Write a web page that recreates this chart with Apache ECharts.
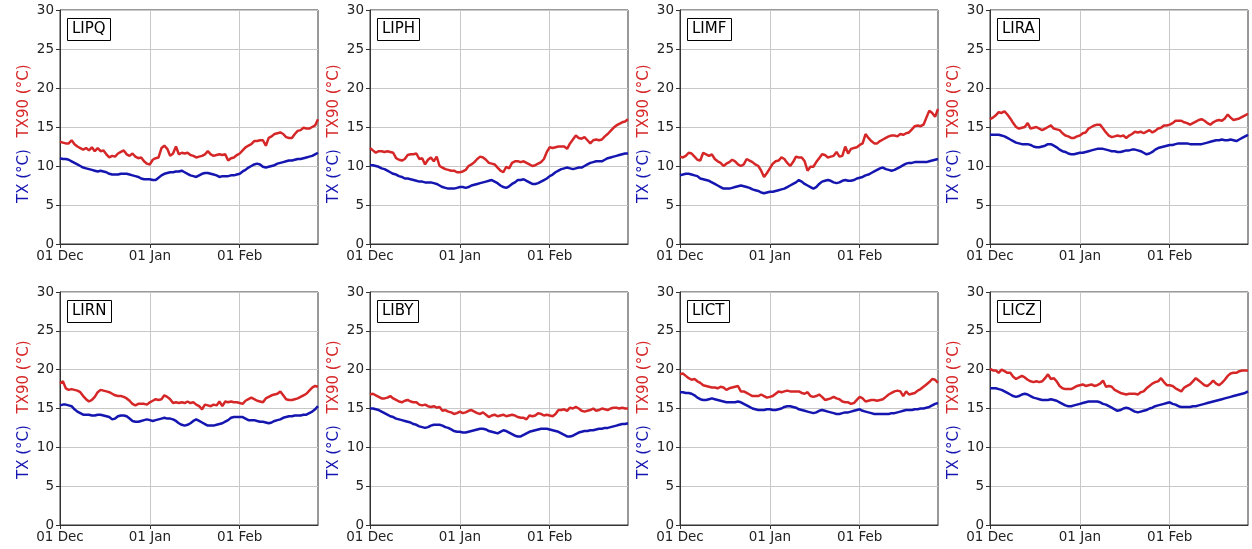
<!DOCTYPE html>
<html>
<head>
<meta charset="utf-8">
<script src="https://cdn.jsdelivr.net/npm/echarts@6/dist/echarts.min.js"></script>
<style>
  html, body { margin: 0; padding: 0; background: #fff; }
  #chart { width: 1252px; height: 549px; }
</style>
</head>
<body>
<div id="chart"></div>
<script>
const stations = ['LIPQ', 'LIPH', 'LIMF', 'LIRA', 'LIRN', 'LIBY', 'LICT', 'LICZ'];
const monthTickIndex = [0, 31, 62];
const monthTickLabels = ['01 Dec', '01 Jan', '01 Feb'];

// daily values, 1 Dec .. 28 Feb (90 days)
const tx90LIPQ = [
  13.1,13.0,12.9,12.9,13.3,12.8,12.5,12.3,12.1,12.3,
  12.0,12.4,11.9,12.3,11.9,12.0,11.5,11.1,11.3,11.2,
  11.6,11.8,12.0,11.5,11.3,11.6,11.2,11.0,11.1,10.6,
  10.3,10.2,10.8,11.0,11.1,12.3,12.6,12.2,11.3,11.6,
  12.5,11.5,11.7,11.6,11.7,11.4,11.3,11.1,11.2,11.3,
  11.5,11.9,11.5,11.3,11.4,11.5,11.4,11.5,10.7,11.0,
  11.1,11.4,11.6,12.0,12.4,12.6,12.8,13.2,13.2,13.3,
  13.3,12.6,13.6,13.8,14.1,14.2,14.3,14.1,13.7,13.6,
  13.6,14.1,14.5,14.6,14.9,14.8,14.8,15.0,15.2,16.0];
const txLIPQ = [
  11.0,10.9,10.9,10.8,10.6,10.4,10.2,10.0,9.8,9.7,
  9.6,9.5,9.4,9.3,9.4,9.3,9.2,9.0,8.9,8.9,
  8.9,9.0,9.0,9.0,8.9,8.8,8.7,8.6,8.4,8.3,
  8.3,8.3,8.2,8.2,8.5,8.8,9.0,9.1,9.2,9.2,
  9.3,9.3,9.4,9.2,9.0,8.8,8.7,8.6,8.8,9.0,
  9.1,9.1,9.0,8.9,8.8,8.6,8.7,8.7,8.7,8.8,
  8.8,8.9,9.0,9.3,9.5,9.8,10.0,10.2,10.3,10.2,
  9.9,9.8,9.9,10.0,10.1,10.3,10.4,10.5,10.6,10.7,
  10.7,10.8,10.9,10.9,11.0,11.1,11.2,11.3,11.5,11.7];

const tx90LIPH = [
  12.3,12.0,11.7,11.9,11.9,11.8,11.9,11.8,11.7,11.0,
  10.8,10.7,10.9,11.4,11.5,11.5,11.6,10.9,11.0,10.2,
  10.8,11.1,10.6,11.2,10.0,9.8,9.6,9.5,9.4,9.4,
  9.2,9.2,9.3,9.5,10.0,10.2,10.5,10.9,11.2,11.1,
  10.8,10.4,10.3,10.2,9.8,9.4,9.2,9.9,9.7,10.4,
  10.6,10.6,10.5,10.6,10.4,10.2,10.0,10.1,10.3,10.5,
  10.9,11.8,12.4,12.3,12.4,12.5,12.5,12.5,12.2,12.9,
  13.4,13.9,13.6,13.5,13.7,13.3,12.9,13.3,13.4,13.3,
  13.4,13.8,14.1,14.5,14.9,15.2,15.4,15.6,15.7,16.0];
const txLIPH = [
  10.1,10.1,10.0,9.9,9.7,9.6,9.4,9.2,9.0,8.9,
  8.7,8.6,8.4,8.4,8.3,8.2,8.1,8.0,8.0,7.9,
  7.9,7.9,7.8,7.7,7.5,7.3,7.2,7.1,7.1,7.1,
  7.2,7.3,7.3,7.2,7.3,7.5,7.6,7.7,7.8,7.9,
  8.0,8.1,8.2,8.0,7.8,7.5,7.3,7.2,7.4,7.7,
  7.9,8.2,8.2,8.3,8.1,7.9,7.7,7.7,7.8,8.0,
  8.2,8.4,8.7,8.9,9.2,9.4,9.6,9.7,9.8,9.7,
  9.6,9.7,9.8,9.8,10.0,10.2,10.4,10.5,10.6,10.6,
  10.6,10.8,11.0,11.1,11.2,11.3,11.4,11.5,11.6,11.6];

const tx90LIMF = [
  11.2,11.1,11.3,11.7,11.6,11.2,10.8,10.7,11.7,11.5,
  11.3,11.5,10.9,10.6,10.4,10.0,10.3,10.5,10.8,10.6,
  10.2,10.0,10.2,10.9,10.7,10.5,10.2,10.0,9.4,8.6,
  9.1,9.7,10.3,10.6,10.7,11.1,10.9,10.4,10.0,10.5,
  11.2,11.1,11.1,10.6,9.4,9.9,9.9,10.5,11.0,11.5,
  11.4,11.1,11.2,11.3,11.8,11.2,11.3,12.5,11.6,12.2,
  12.3,12.4,12.7,12.9,14.1,13.6,13.2,12.9,12.9,13.2,
  13.4,13.6,13.8,13.9,13.9,13.8,14.1,14.0,14.2,14.3,
  14.7,15.1,15.2,15.1,15.3,16.2,17.1,16.8,16.3,17.3];
const txLIMF = [
  8.8,8.9,9.0,9.0,8.9,8.8,8.7,8.4,8.3,8.2,
  8.1,7.9,7.7,7.5,7.3,7.1,7.1,7.1,7.2,7.3,
  7.4,7.5,7.4,7.3,7.2,7.0,6.9,6.8,6.6,6.5,
  6.6,6.7,6.7,6.8,6.9,7.0,7.1,7.3,7.5,7.7,
  7.9,8.2,8.0,7.7,7.5,7.3,7.1,7.3,7.7,8.0,
  8.1,8.2,8.1,7.9,7.8,7.9,8.1,8.2,8.1,8.1,
  8.2,8.4,8.5,8.6,8.8,8.9,9.1,9.3,9.5,9.7,
  9.8,9.6,9.5,9.4,9.5,9.7,9.9,10.1,10.3,10.4,
  10.4,10.5,10.5,10.5,10.5,10.5,10.6,10.7,10.8,10.9];

const tx90LIRA = [
  16.0,16.2,16.5,16.9,16.8,17.0,16.6,16.1,15.5,15.0,
  14.8,14.9,15.0,15.5,14.8,14.9,15.0,14.8,14.6,14.8,
  15.0,15.2,14.8,14.7,14.6,14.2,13.9,13.8,13.6,13.6,
  13.8,13.9,14.2,14.3,14.8,15.0,15.2,15.3,15.3,14.8,
  14.3,13.9,13.7,13.8,13.9,13.8,13.9,13.6,13.9,14.1,
  14.4,14.3,14.4,14.2,14.4,14.6,14.3,14.5,14.8,14.9,
  15.2,15.2,15.3,15.5,15.8,15.8,15.8,15.6,15.5,15.3,
  15.5,15.7,15.9,16.0,15.8,15.5,15.3,15.6,15.8,15.9,
  15.8,16.1,16.6,16.2,15.9,16.0,16.1,16.3,16.5,16.7];
const txLIRA = [
  14.0,14.0,14.0,14.0,13.9,13.8,13.6,13.4,13.2,13.0,
  12.9,12.8,12.8,12.8,12.7,12.5,12.4,12.4,12.5,12.6,
  12.8,12.8,12.6,12.4,12.1,11.9,11.8,11.6,11.5,11.5,
  11.6,11.7,11.7,11.8,11.9,12.0,12.1,12.2,12.2,12.2,
  12.1,12.0,11.9,11.9,11.8,11.8,11.9,12.0,12.0,12.1,
  12.1,12.0,11.9,11.7,11.5,11.6,11.8,12.1,12.3,12.4,
  12.5,12.6,12.7,12.7,12.8,12.9,12.9,12.9,12.9,12.8,
  12.8,12.8,12.8,12.8,12.9,13.0,13.1,13.2,13.3,13.3,
  13.4,13.3,13.3,13.4,13.3,13.2,13.4,13.6,13.8,14.0];

const tx90LIRN = [
  18.2,18.5,17.6,17.4,17.5,17.4,17.3,17.1,16.6,16.2,
  15.9,16.1,16.5,17.1,17.4,17.3,17.2,17.1,16.9,16.7,
  16.6,16.6,16.5,16.3,16.0,15.6,15.4,15.6,15.6,15.6,
  15.5,15.8,16.0,16.2,16.1,16.2,16.7,16.5,16.2,15.7,
  15.8,15.7,15.8,15.7,15.9,15.7,15.8,15.5,15.3,14.9,
  15.5,15.4,15.3,15.5,15.4,15.9,15.3,15.9,15.8,15.9,
  15.8,15.8,15.7,15.6,16.0,16.2,16.4,16.2,16.0,15.9,
  15.8,16.3,16.5,16.7,16.8,16.9,17.2,16.7,16.2,16.1,
  16.1,16.2,16.3,16.5,16.7,16.9,17.3,17.7,17.9,17.8];
const txLIRN = [
  15.4,15.5,15.5,15.4,15.3,14.9,14.6,14.4,14.2,14.2,
  14.2,14.1,14.1,14.2,14.2,14.1,14.0,13.9,13.6,13.7,
  14.0,14.1,14.1,14.0,13.7,13.4,13.3,13.3,13.4,13.5,
  13.6,13.5,13.4,13.5,13.6,13.7,13.8,13.7,13.7,13.6,
  13.4,13.1,12.9,12.8,12.9,13.1,13.4,13.6,13.4,13.2,
  13.0,12.8,12.8,12.8,12.9,13.0,13.1,13.3,13.5,13.8,
  13.9,13.9,13.9,13.9,13.7,13.5,13.5,13.5,13.4,13.3,
  13.3,13.2,13.1,13.2,13.4,13.5,13.6,13.8,13.9,14.0,
  14.0,14.1,14.1,14.1,14.2,14.2,14.4,14.6,14.9,15.3];

const tx90LIBY = [
  16.8,16.9,16.7,16.5,16.3,16.3,16.4,16.6,16.3,16.1,
  15.9,15.8,16.0,16.1,15.9,15.8,15.8,15.5,15.4,15.5,
  15.3,15.2,15.3,15.1,15.2,14.7,14.8,14.6,14.5,14.3,
  14.4,14.6,14.4,14.5,14.7,14.8,14.6,14.4,14.3,14.5,
  14.2,13.9,14.1,14.2,14.0,14.1,14.2,14.0,14.1,14.2,
  14.1,13.9,13.8,13.8,13.6,14.1,14.0,14.1,14.4,14.3,
  14.1,14.2,14.1,14.0,14.3,14.8,14.8,14.9,14.7,15.1,
  15.0,15.2,15.0,14.7,14.6,14.7,14.8,15.0,14.7,14.8,
  15.0,14.9,14.8,15.0,15.1,15.1,15.0,15.1,15.0,15.0];
const txLIBY = [
  15.0,15.0,14.9,14.8,14.6,14.4,14.2,14.0,13.9,13.7,
  13.6,13.5,13.4,13.3,13.2,13.0,12.9,12.7,12.6,12.5,
  12.6,12.8,12.9,12.9,12.9,12.8,12.6,12.5,12.3,12.1,
  12.0,12.0,11.9,11.9,12.0,12.1,12.2,12.3,12.4,12.4,
  12.3,12.1,12.0,11.9,11.8,12.0,12.2,12.1,11.9,11.7,
  11.5,11.4,11.4,11.6,11.8,12.0,12.1,12.2,12.3,12.4,
  12.4,12.4,12.3,12.2,12.1,12.0,11.8,11.6,11.4,11.4,
  11.5,11.7,11.9,12.0,12.1,12.1,12.2,12.2,12.3,12.4,
  12.4,12.5,12.5,12.6,12.7,12.8,12.9,13.0,13.0,13.1];

const tx90LICT = [
  19.4,19.5,19.2,18.9,18.7,18.8,18.5,18.3,18.0,17.9,
  17.8,17.7,17.7,17.6,17.8,17.7,17.4,17.6,17.7,17.8,
  17.9,17.2,17.2,17.0,16.8,16.6,16.6,16.6,16.8,16.6,
  16.4,16.5,16.6,16.9,17.2,17.1,17.2,17.3,17.2,17.2,
  17.2,17.2,17.0,16.9,17.1,16.6,16.5,16.6,16.8,16.5,
  16.1,16.2,16.3,16.5,16.3,16.2,15.9,15.8,15.8,15.6,
  15.7,16.1,16.5,16.3,15.9,16.0,16.1,16.1,16.0,16.1,
  16.2,16.5,16.8,17.0,17.2,17.3,17.2,16.6,17.2,16.8,
  16.9,17.0,17.3,17.5,17.8,18.1,18.4,18.8,18.7,18.3];
const txLICT = [
  17.1,17.1,17.0,17.0,16.9,16.7,16.4,16.2,16.1,16.1,
  16.2,16.3,16.2,16.1,16.0,15.9,15.8,15.8,15.8,15.8,
  15.9,15.8,15.6,15.4,15.2,15.0,14.9,14.8,14.8,14.8,
  14.9,14.9,14.8,14.8,14.9,15.0,15.2,15.3,15.3,15.2,
  15.1,14.9,14.8,14.7,14.6,14.5,14.4,14.5,14.7,14.8,
  14.7,14.6,14.5,14.4,14.3,14.3,14.4,14.5,14.5,14.6,
  14.7,14.8,14.9,14.7,14.6,14.5,14.4,14.3,14.3,14.3,
  14.3,14.3,14.3,14.4,14.4,14.5,14.6,14.7,14.8,14.8,
  14.8,14.9,14.9,15.0,15.0,15.1,15.2,15.4,15.6,15.7];

const tx90LICZ = [
  20.1,19.9,19.9,19.6,20.0,19.8,19.6,19.6,19.1,18.8,
  19.0,19.2,19.0,18.7,18.5,18.4,18.5,18.4,18.5,18.9,
  19.4,18.8,18.9,18.5,17.9,17.6,17.5,17.5,17.5,17.7,
  17.9,18.0,18.1,17.9,18.0,18.1,17.9,18.0,18.2,18.6,
  17.8,17.9,17.8,17.4,17.2,17.0,16.9,16.8,16.9,16.9,
  16.9,16.8,17.1,17.2,17.6,17.9,18.2,18.4,18.5,18.9,
  18.4,18.0,18.0,17.9,17.6,17.4,17.2,17.7,17.9,18.1,
  18.5,18.9,18.6,18.3,18.0,17.9,18.2,18.6,18.2,18.0,
  18.3,18.7,19.2,19.5,19.6,19.6,19.8,19.9,19.9,19.9];
const txLICZ = [
  17.6,17.6,17.6,17.5,17.4,17.2,17.0,16.8,16.6,16.5,
  16.6,16.8,16.9,16.8,16.6,16.4,16.3,16.2,16.1,16.1,
  16.1,16.2,16.1,16.0,15.8,15.6,15.4,15.3,15.3,15.4,
  15.5,15.6,15.7,15.8,15.9,15.9,15.9,15.9,15.8,15.6,
  15.5,15.3,15.1,14.9,14.7,14.8,15.0,15.1,15.0,14.8,
  14.6,14.5,14.6,14.7,14.8,15.0,15.1,15.3,15.4,15.5,
  15.6,15.7,15.8,15.6,15.5,15.3,15.2,15.2,15.2,15.2,
  15.3,15.3,15.4,15.5,15.6,15.7,15.8,15.9,16.0,16.1,
  16.2,16.3,16.4,16.5,16.6,16.7,16.8,16.9,17.0,17.2];

const tx90Series = [tx90LIPQ, tx90LIPH, tx90LIMF, tx90LIRA, tx90LIRN, tx90LIBY, tx90LICT, tx90LICZ];
const txSeries = [txLIPQ, txLIPH, txLIMF, txLIRA, txLIRN, txLIBY, txLICT, txLICZ];

// day categories
const days = [];
for (let i = 0; i < 90; i++) {
  const d = new Date(Date.UTC(2018, 11, 1 + i));
  days.push(d.toISOString().slice(0, 10));
}

const FONT = 'DejaVu Sans';
const RED = '#d62728';
const BLUE = '#1515b0';
const GRID_W = 258;
const colLeft = [60, 370, 680, 990];
const rowTop = [10, 292];
const rowH = [234, 233];
// vertical centres of the two y labels, relative to grid top
const labelTX90Y = [91, 85];
const labelTXY = [166, 160];

const isMonthStart = (idx) => monthTickIndex.indexOf(idx) >= 0;

const grids = [], xAxes = [], yAxes = [], series = [], titles = [], graphics = [];

stations.forEach((name, i) => {
  const col = i % 4, row = Math.floor(i / 4);
  const gx = colLeft[col], gy = rowTop[row];

  grids.push({
    left: gx, top: gy, width: GRID_W, height: rowH[row],
    show: true, borderColor: '#333', borderWidth: 1,
    containLabel: false
  });

  xAxes.push({
    type: 'category', gridIndex: i, data: days, boundaryGap: false,
    axisLine: { show: true, lineStyle: { color: '#333', width: 1 } },
    axisTick: { show: true, interval: isMonthStart, length: 4, lineStyle: { color: '#333' } },
    axisLabel: {
      interval: isMonthStart,
      formatter: (v, idx) => monthTickLabels[monthTickIndex.indexOf(idx)],
      color: '#222', fontSize: 13.5, fontFamily: FONT, margin: 5
    },
    splitLine: { show: true, interval: isMonthStart, lineStyle: { color: '#c8c8c8', width: 1 } }
  });

  yAxes.push({
    type: 'value', gridIndex: i, min: 0, max: 30, interval: 5,
    axisLine: { show: true, lineStyle: { color: '#333', width: 1 } },
    axisTick: { show: true, length: 4, lineStyle: { color: '#333' } },
    axisLabel: { color: '#222', fontSize: 13.5, fontFamily: FONT, margin: 6 },
    splitLine: { show: true, lineStyle: { color: '#c8c8c8', width: 1 } }
  });

  series.push({
    name: name + ' TX90', type: 'line', xAxisIndex: i, yAxisIndex: i,
    data: tx90Series[i], showSymbol: false, symbol: 'none',
    lineStyle: { color: RED, width: 2.5 }, itemStyle: { color: RED }
  });
  series.push({
    name: name + ' TX', type: 'line', xAxisIndex: i, yAxisIndex: i,
    data: txSeries[i], showSymbol: false, symbol: 'none',
    lineStyle: { color: BLUE, width: 2.5 }, itemStyle: { color: BLUE }
  });

  titles.push({
    text: name, left: gx + 7, top: gy + 8,
    padding: [4, 5, 4, 5],
    borderColor: '#000', borderWidth: 1, backgroundColor: '#fff',
    textStyle: { fontSize: 15, fontWeight: 'normal', color: '#000', fontFamily: FONT }
  });

  graphics.push({
    type: 'text', x: gx - 36, y: gy + labelTXY[row], rotation: Math.PI / 2,
    style: { text: 'TX (°C)', fill: BLUE, font: '15px "DejaVu Sans"', align: 'center', verticalAlign: 'middle' }
  });
  graphics.push({
    type: 'text', x: gx - 36, y: gy + labelTX90Y[row], rotation: Math.PI / 2,
    style: { text: 'TX90 (°C)', fill: RED, font: '15px "DejaVu Sans"', align: 'center', verticalAlign: 'middle' }
  });
});

const chart = echarts.init(document.getElementById('chart'));
chart.setOption({
  animation: false,
  backgroundColor: '#fff',
  textStyle: { fontFamily: FONT },
  title: titles,
  grid: grids,
  xAxis: xAxes,
  yAxis: yAxes,
  series: series,
  graphic: graphics
});
</script>
</body>
</html>
